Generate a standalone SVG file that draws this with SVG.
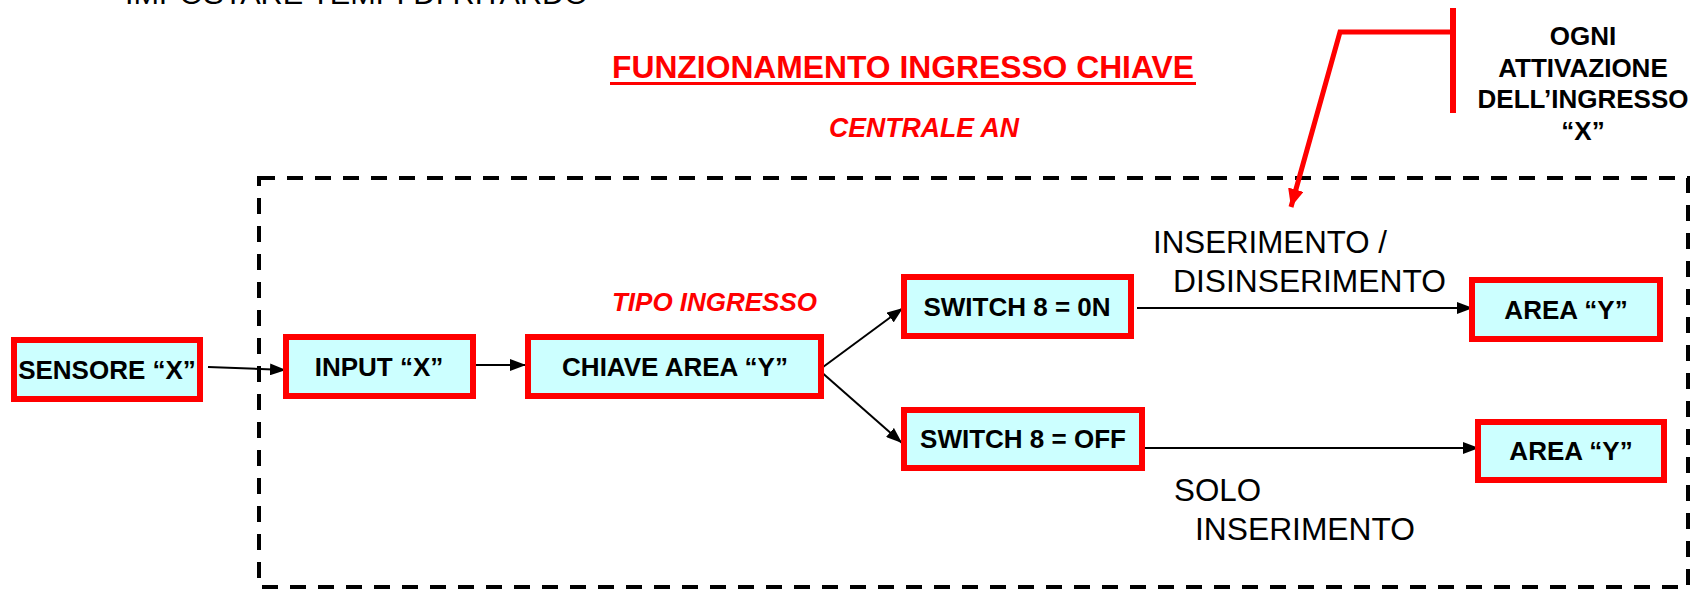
<svg xmlns="http://www.w3.org/2000/svg" width="1693" height="589" viewBox="0 0 1693 589">
<style>
.box{fill:#CCFFFF;stroke:#FF0000;stroke-width:6}
.bt{font-family:"Liberation Sans",Arial,sans-serif;font-weight:bold;font-size:26px;fill:#000;text-anchor:middle}
.rt{font-family:"Liberation Sans",Arial,sans-serif;font-size:31px;fill:#000}
.red{font-family:"Liberation Sans",Arial,sans-serif;font-weight:bold;fill:#FF0000}
.conn{stroke:#000;stroke-width:2;fill:none}
</style>
<defs>
<marker id="ah" viewBox="0 0 16 12" refX="16" refY="6" markerWidth="16" markerHeight="12" orient="auto" markerUnits="userSpaceOnUse"><path d="M0,0 L16,6 L0,12 z" fill="#000"/></marker>
<marker id="rah" viewBox="0 0 18 16" refX="18" refY="8" markerWidth="18" markerHeight="16" orient="auto" markerUnits="userSpaceOnUse"><path d="M0,0 L18,8 L0,16 z" fill="#FF0000"/></marker>
</defs>
<rect width="1693" height="589" fill="#fff"/>
<text x="125" y="4" font-family="Liberation Sans, Arial, sans-serif" font-size="30" fill="#000" textLength="463" lengthAdjust="spacingAndGlyphs">IMPOSTARE TEMPI DI RITARDO</text>
<g id="title">
<text class="red" x="612" y="78" font-size="32" textLength="582" lengthAdjust="spacingAndGlyphs">FUNZIONAMENTO INGRESSO CHIAVE</text>
<rect x="610" y="82" width="586" height="3" fill="#FF0000"/>
<text class="red" x="829" y="137" font-size="27" font-style="italic" textLength="190" lengthAdjust="spacingAndGlyphs">CENTRALE AN</text>
</g>
<g id="container">
<rect x="259" y="178" width="1429" height="409" fill="none" stroke="#000" stroke-width="4" stroke-dasharray="16 12"/>
</g>
<g id="callout">
<line x1="1453" y1="8" x2="1453" y2="113" stroke="#FF0000" stroke-width="6"/>
<polyline points="1453,32 1340,32 1291,207" fill="none" stroke="#FF0000" stroke-width="5" marker-end="url(#rah)"/>
<text class="bt" x="1583" y="45">OGNI</text>
<text class="bt" x="1583" y="77">ATTIVAZIONE</text>
<text class="bt" x="1583" y="108">DELL’INGRESSO</text>
<text class="bt" x="1583" y="140">“X”</text>
</g>
<g id="tipo-ingresso">
<text class="red" x="612" y="311" font-size="26" font-style="italic" textLength="205" lengthAdjust="spacingAndGlyphs">TIPO INGRESSO</text>
</g>
<g id="connectors">
<line class="conn" x1="208" y1="367" x2="286" y2="370" marker-end="url(#ah)"/>
<line class="conn" x1="468" y1="365" x2="526" y2="365" marker-end="url(#ah)"/>
<line class="conn" x1="819" y1="370" x2="903" y2="308" marker-end="url(#ah)"/>
<line class="conn" x1="819" y1="370" x2="902" y2="443" marker-end="url(#ah)"/>
<line class="conn" x1="1137" y1="308" x2="1473" y2="308" marker-end="url(#ah)"/>
<line class="conn" x1="1145" y1="448" x2="1479" y2="448" marker-end="url(#ah)"/>
<text class="rt" x="1153" y="253" textLength="234" lengthAdjust="spacingAndGlyphs">INSERIMENTO /</text>
<text class="rt" x="1173" y="292" textLength="273" lengthAdjust="spacingAndGlyphs">DISINSERIMENTO</text>
<text class="rt" x="1174" y="501" textLength="87" lengthAdjust="spacingAndGlyphs">SOLO</text>
<text class="rt" x="1195" y="540" textLength="220" lengthAdjust="spacingAndGlyphs">INSERIMENTO</text>
</g>
<g id="sensore">
<rect class="box" x="14" y="340" width="186" height="59"/>
<text class="bt" x="107" y="379">SENSORE “X”</text>
</g>
<g id="input">
<rect class="box" x="286" y="337" width="187" height="59"/>
<text class="bt" x="379" y="376">INPUT “X”</text>
</g>
<g id="chiave">
<rect class="box" x="528" y="337" width="293" height="59"/>
<text class="bt" x="675" y="376">CHIAVE AREA “Y”</text>
</g>
<g id="switch-on">
<rect class="box" x="904" y="277" width="227" height="59"/>
<text class="bt" x="1017" y="316">SWITCH 8 = 0N</text>
</g>
<g id="switch-off">
<rect class="box" x="904" y="410" width="238" height="58"/>
<text class="bt" x="1023" y="448">SWITCH 8 = OFF</text>
</g>
<g id="area-top">
<rect class="box" x="1472" y="280" width="188" height="59"/>
<text class="bt" x="1566" y="319">AREA “Y”</text>
</g>
<g id="area-bottom">
<rect class="box" x="1478" y="422" width="186" height="58"/>
<text class="bt" x="1571" y="460">AREA “Y”</text>
</g>
</svg>
